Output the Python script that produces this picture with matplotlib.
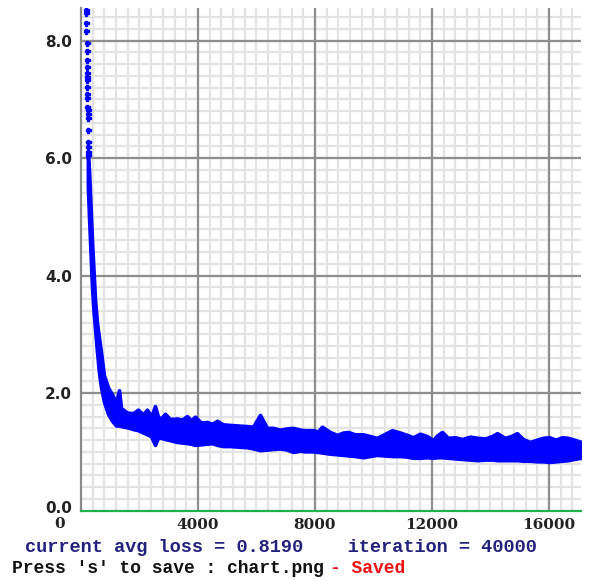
import matplotlib
matplotlib.use("Agg")
import matplotlib.pyplot as plt
import numpy as np

# ---- data ----
# sparse early points (iteration, loss)
early_iter = [170, 175, 180, 185, 190, 195, 200, 205, 208, 210, 212, 215, 218,
              220, 222, 224, 226, 228, 232, 236, 238, 240, 242]
early_loss = [8.53, 8.47, 8.30, 8.16, 7.96, 7.82, 7.67, 7.55, 7.45, 7.38, 7.33,
              7.21, 7.10, 7.02, 6.87, 6.82, 6.75, 6.68, 6.48, 6.28, 6.19, 6.11, 6.05]

# dense band: iteration, lower envelope, upper envelope of the loss points
band_iter = [235, 274, 308, 342, 376, 427, 479, 547, 615, 684, 786, 923, 1060,
             1197, 1300, 1368, 1573, 1778, 1949, 2120, 2257, 2393, 2530, 2633,
             2735, 2872, 3043, 3282, 3453, 3624, 3761, 3898, 4103, 4308, 4479,
             4650, 4855, 5094, 5368, 5676, 5881, 6120, 6359, 6565, 6804, 7043,
             7248, 7488, 7659, 7932, 8103, 8240, 8513, 8753, 8958, 9129, 9368,
             9642, 9881, 10120, 10360, 10633, 10907, 11146, 11351, 11590, 11830,
             12035, 12172, 12343, 12548, 12787, 13027, 13300, 13573, 13813,
             14052, 14223, 14497, 14702, 14907, 15112, 15351, 15591, 15796,
             16001, 16240, 16445, 16650, 16855, 17095]
band_lo = [5.50, 5.00, 4.60, 4.20, 3.80, 3.40, 3.10, 2.70, 2.35, 2.10, 1.85,
           1.65, 1.53, 1.45, 1.45, 1.44, 1.42, 1.39, 1.37, 1.33, 1.30, 1.27,
           1.12, 1.24, 1.24, 1.22, 1.20, 1.17, 1.16, 1.15, 1.14, 1.12, 1.13,
           1.14, 1.15, 1.12, 1.10, 1.10, 1.09, 1.08, 1.06, 1.03, 1.04, 1.05,
           1.06, 1.04, 1.00, 1.02, 1.01, 1.01, 1.00, 0.99, 0.97, 0.96, 0.95,
           0.94, 0.93, 0.91, 0.93, 0.95, 0.94, 0.93, 0.93, 0.92, 0.90, 0.90,
           0.91, 0.90, 0.91, 0.91, 0.90, 0.89, 0.88, 0.87, 0.86, 0.87, 0.87,
           0.86, 0.86, 0.86, 0.86, 0.85, 0.85, 0.84, 0.84, 0.83, 0.84, 0.85,
           0.86, 0.88, 0.90]
band_hi = [6.05, 5.80, 5.40, 5.00, 4.60, 4.10, 3.60, 3.20, 2.95, 2.70, 2.30,
           2.10, 1.98, 1.85, 2.05, 1.75, 1.67, 1.66, 1.72, 1.64, 1.72, 1.60,
           1.78, 1.60, 1.57, 1.65, 1.56, 1.57, 1.55, 1.61, 1.54, 1.60, 1.50,
           1.51, 1.48, 1.53, 1.47, 1.46, 1.45, 1.44, 1.43, 1.63, 1.41, 1.41,
           1.38, 1.40, 1.41, 1.38, 1.37, 1.37, 1.35, 1.43, 1.34, 1.29, 1.33,
           1.34, 1.30, 1.30, 1.27, 1.24, 1.30, 1.37, 1.33, 1.29, 1.25, 1.31,
           1.27, 1.20, 1.28, 1.34, 1.24, 1.25, 1.22, 1.26, 1.24, 1.23, 1.27,
           1.32, 1.24, 1.27, 1.32, 1.22, 1.17, 1.21, 1.24, 1.25, 1.21, 1.25,
           1.24, 1.21, 1.17]

x_ticks = [0, 4000, 8000, 12000, 16000]
x_labels = ["", "4000", "8000", "12000", "16000"]
y_ticks = [0, 2, 4, 6, 8]
y_labels = ["", "2.0", "4.0", "6.0", "8.0"]

line1 = "current avg loss = 0.8190    iteration = 40000"
line2a = "Press 's' to save : chart.png"
line2b = "- Saved"

XMAX, YMAX = 17095, 8.556

# ---- figure ----
fig = plt.figure(figsize=(5.92, 5.80), dpi=100)
ax = fig.add_axes([81 / 592, 69.3 / 580, 500 / 592, 502.7 / 580])
ax.set_xlim(0, XMAX)
ax.set_ylim(0, YMAX)

# grid: minor light lines under major dark lines
minor_x = np.arange(400, XMAX, 400)
minor_y = np.arange(0.2, YMAX, 0.2)
ax.vlines(minor_x, 0, YMAX, colors="#e3e3e3", lw=1.6, zorder=0.5)
ax.hlines(minor_y, 0, XMAX, colors="#e3e3e3", lw=1.6, zorder=0.5)
ax.vlines(x_ticks[1:], 0, YMAX, colors="#8e8e8e", lw=1.6, zorder=0.6)
ax.hlines(y_ticks[1:], 0, XMAX, colors="#8e8e8e", lw=1.6, zorder=0.6)

ax.set_xticks(x_ticks)
ax.set_xticklabels(x_labels)
ax.set_yticks(y_ticks)
ax.set_yticklabels(y_labels)
ax.tick_params(which="both", length=0)
ax.tick_params(axis="y", pad=6.5)
ax.tick_params(axis="x", pad=5)
for lab in ax.get_yticklabels():
    lab.set_fontfamily("DejaVu Sans")
    lab.set_fontweight("bold")
    lab.set_fontsize(11)
    lab.set_color("#222222")
for lab in ax.get_xticklabels():
    lab.set_fontfamily("DejaVu Serif")
    lab.set_fontweight("bold")
    lab.set_fontsize(11)
    lab.set_color("#222222")
ax.annotate("0.0", xy=(0, 0), xycoords="data", xytext=(-9, 2.5),
            textcoords="offset pixels", ha="right", va="center",
            fontfamily="DejaVu Sans", fontweight="bold", fontsize=11,
            color="#222222", annotation_clip=False)
ax.annotate("0", xy=(0, 0), xycoords="data", xytext=(-21, -13.5),
            textcoords="offset pixels", ha="center", va="center",
            fontfamily="DejaVu Serif", fontweight="bold", fontsize=11,
            color="#222222", annotation_clip=False)

for s in ("top", "right"):
    ax.spines[s].set_visible(False)
ax.spines["left"].set_color("#8a8a8a")
ax.spines["left"].set_linewidth(1.6)
ax.spines["bottom"].set_color("#22b04a")
ax.spines["bottom"].set_linewidth(1.6)

ax.fill_between(band_iter, band_lo, band_hi, facecolor="#0000ff",
                edgecolor="#0000ff", lw=2.6, zorder=3)
ax.plot(early_iter, early_loss, ls="none", marker="P", ms=3.6,
        color="#0000ff", mec="#0000ff", zorder=3, clip_on=True)

fig.text(25 / 592, (580 - 551.7) / 580, line1, fontfamily="Liberation Mono",
         fontweight="bold", fontsize=13.4, color="#22227e", va="baseline")
fig.text(12 / 592, (580 - 573.3) / 580, line2a,
         fontfamily="Liberation Mono", fontweight="bold", fontsize=13,
         color="#111111", va="baseline")
fig.text(330 / 592, (580 - 573.3) / 580, line2b, fontfamily="Liberation Mono",
         fontweight="bold", fontsize=13, color="#ee1111", va="baseline")

fig.savefig("out.png", dpi=100)
